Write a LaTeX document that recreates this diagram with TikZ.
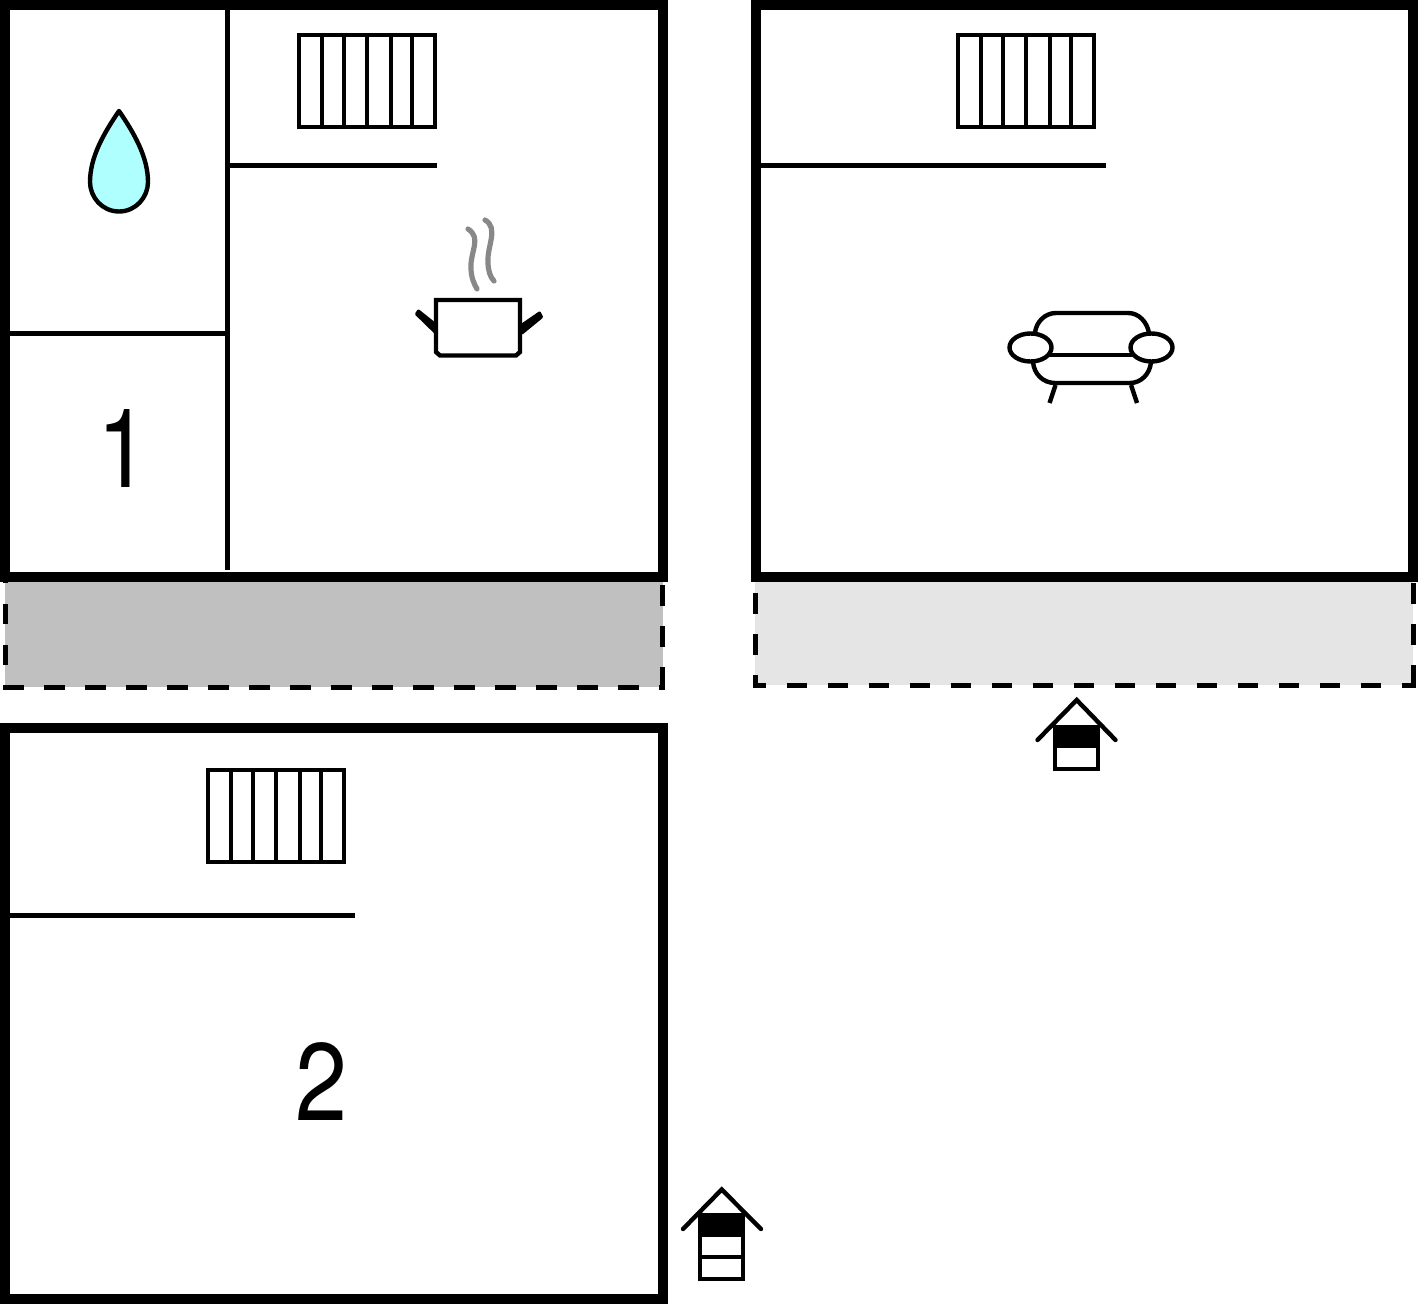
\documentclass[tikz,border=0pt]{standalone}
\usepackage{fontspec}
\setmainfont{TeX Gyre Heros}
\definecolor{terraceDark}{HTML}{C0C0C0}
\definecolor{terraceLight}{HTML}{E5E5E5}
\definecolor{dropBlue}{HTML}{B0FFFF}
\definecolor{steamGray}{HTML}{888888}
\tikzset{
  wall/.style={line width=5pt,miter limit=10},
  partition/.style={line width=2.5pt},
  thinline/.style={line width=2.2pt},
  iconline/.style={line width=2.2pt,line cap=round,line join=round},
  roofline/.style={line width=2.2pt,line cap=round,line join=miter},
  steam/.style={line width=2.6pt,line cap=round,draw=steamGray},
  handle/.style={draw,line width=1.5pt,line join=round},
  edgedash/.style={line width=2.5pt,dash pattern=on 10.25pt off 10.25pt},
  numeral/.style={font=\fontsize{55pt}{55pt}\selectfont,inner sep=0pt,anchor=center}
}
\newcommand{\radiator}[2]{%
  \begin{scope}[shift={(#1,#2)}]
    \draw[thinline] (299,35) rectangle (435,127);
    \foreach \xx in {322,344,367,391,412} \draw[thinline] (\xx,35) -- (\xx,127);
  \end{scope}}
\begin{document}
\begin{tikzpicture}[x=0.5pt,y=-0.5pt]
\useasboundingbox (0,0) rectangle (1418,1304);
% terraces
\fill[terraceDark] (5,580) rectangle (662.6,686.7);
\fill[terraceLight] (755,580) rectangle (1412.7,685);
\draw[edgedash] (3,687.5) -- (665,687.5);
\draw[edgedash] (662.5,687.5) -- (662.5,584.5);
\draw[edgedash] (5.5,665) -- (5.5,582);
\draw[edgedash,dash phase=3.75pt] (753,685.5) -- (1416,685.5);
\draw[edgedash,dash phase=3.75pt] (755.5,688) -- (755.5,593);
\draw[edgedash] (1413,685.5) -- (1413,583);
% rooms
\draw[wall] (5,5) rectangle (663,576.5);
\draw[wall] (755.5,5) rectangle (1413,576.5);
\draw[wall] (5,728) rectangle (663,1299);
% partitions
\draw[partition] (227.5,10) -- (227.5,570);
\draw[partition] (230,165.6) -- (437,165.6);
\draw[partition] (10,333.6) -- (226,333.6);
\draw[partition] (760,165.6) -- (1106,165.6);
\draw[partition] (10,915.5) -- (355,915.5);
% radiators
\radiator{0}{0}
\radiator{659}{0}
\radiator{-91}{735}
% water drop
\draw[iconline,fill=dropBlue] (119,111)
  .. controls (104,133) and (90,157) .. (90,182)
  .. controls (90,197) and (102,211.5) .. (119,211.5)
  .. controls (136,211.5) and (148,197) .. (148,182)
  .. controls (148,157) and (134,133) .. (119,111) -- cycle;
% numerals
\node[numeral] (one) at (123.5,449) {\scalebox{0.85}[1]{1}};
\node[numeral] (two) at (321,1081) {\scalebox{0.85}[1]{2}};
% pot
\filldraw[handle] (416.5,314) -- (418.5,311) -- (436,325) -- (436,333) -- cycle;
\filldraw[handle] (541.5,317) -- (539.5,313) -- (522,325) -- (522,333) -- cycle;
\draw[line width=2.2pt,line join=miter] (436,300) -- (520,300) -- (520,352) -- (516,355.5) -- (440,355.5) -- (436,352) -- cycle;
\draw[steam] (468,229) .. controls (482,238) and (470,252) .. (471,268) .. controls (471,277) and (474,284) .. (477,289);
\draw[steam] (485,220) .. controls (499,228) and (487,246) .. (488,262) .. controls (488,270) and (490,277) .. (494,281);
% sofa
\draw[iconline] (1035,333) .. controls (1036,322) and (1045,313) .. (1056,313) -- (1128,313) .. controls (1139,313) and (1147,322) .. (1149,333);
\draw[iconline] (1033,362) .. controls (1034,374) and (1043,383) .. (1055,383) -- (1130,383) .. controls (1141,383) and (1150,374) .. (1151,362);
\draw[iconline] (1050,355) -- (1131,355);
\draw[iconline] (1030.5,347.5) ellipse [x radius=21,y radius=14];
\draw[iconline] (1151.5,347.5) ellipse [x radius=21,y radius=14];
\draw[thinline] (1055.5,385) -- (1049.5,403);
\draw[thinline] (1131,385) -- (1137,403);
% stair symbol, lower
\draw[roofline] (683,1229) -- (721.7,1189.5) -- (761,1229);
\fill (700,1215) rectangle (743,1237);
\draw[thinline] (700,1215) rectangle (743,1279);
\draw[thinline] (700,1257) -- (743,1257);
% stair symbol, upper
\draw[roofline] (1037.5,740) -- (1076.7,700) -- (1115.5,740);
\fill (1055,727) rectangle (1098,748);
\draw[thinline] (1055,727) rectangle (1098,769);
\end{tikzpicture}
\end{document}
